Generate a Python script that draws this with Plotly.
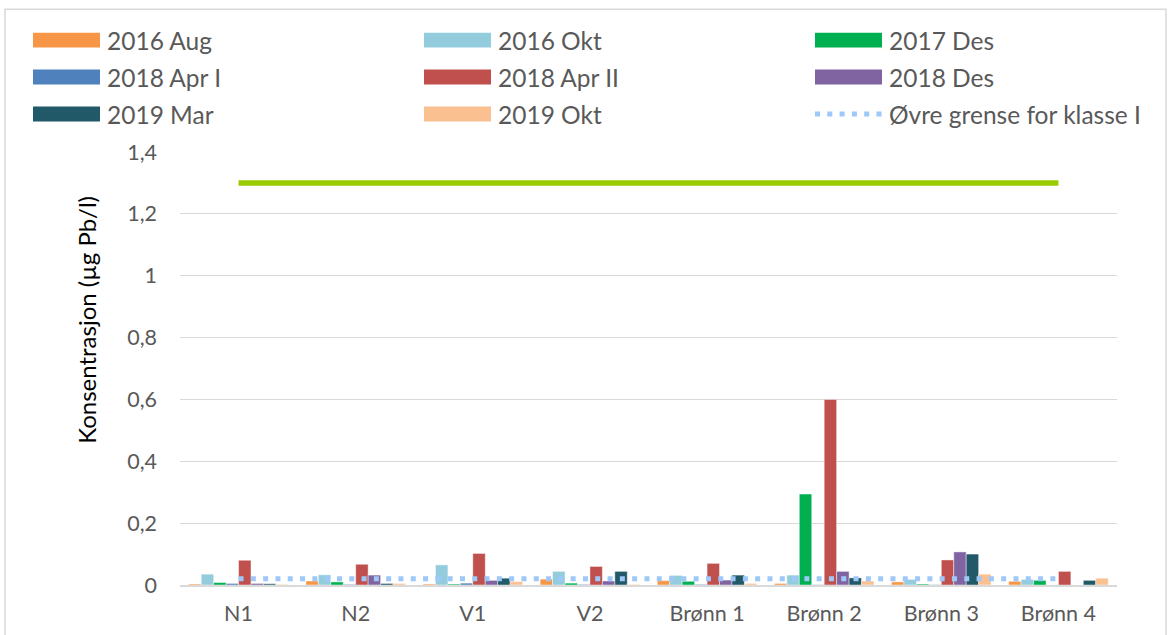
import plotly.graph_objects as go

# Sampling points
categories = ["N1", "N2", "V1", "V2", "Brønn 1", "Brønn 2", "Brønn 3", "Brønn 4"]

# Lead concentrations (µg Pb/l) per sampling round
series_names = ["2016 Aug", "2016 Okt", "2017 Des", "2018 Apr I",
                "2018 Apr II", "2018 Des", "2019 Mar", "2019 Okt"]
aug_2016 = [0.003, 0.013, 0.003, 0.019, 0.014, 0.005, 0.010, 0.012]
okt_2016 = [0.035, 0.033, 0.065, 0.044, 0.031, 0.032, 0.018, 0.018]
des_2017 = [0.008, 0.010, 0.003, 0.006, 0.012, 0.294, 0.003, 0.015]
apr1_2018 = [0.005, 0.002, 0.006, 0.002, 0.002, 0.001, 0.001, None]
apr2_2018 = [0.080, 0.067, 0.102, 0.060, 0.070, 0.600, 0.081, 0.044]
des_2018 = [0.005, 0.032, 0.015, 0.013, 0.016, 0.044, 0.107, None]
mar_2019 = [0.004, 0.005, 0.022, 0.044, 0.032, 0.023, 0.100, 0.015]
okt_2019 = [0.002, 0.005, 0.011, 0.002, 0.005, 0.013, 0.035, 0.022]
series_values = [aug_2016, okt_2016, des_2017, apr1_2018,
                 apr2_2018, des_2018, mar_2019, okt_2019]
series_colors = ["#F79646", "#93CDDD", "#00B050", "#4F81BD",
                 "#C0504D", "#8064A2", "#215968", "#FAC090"]

# Reference limits
limit_name = "Øvre grense for klasse I"
limit_class1 = [0.02] * len(categories)
limit_green = [1.3] * len(categories)

TEXT = "#595959"
GRID = "#D9D9D9"
FONT = "Lato"

# plot area in page pixels
L, R, T, B = 180, 1117, 152, 585.5


def px(x):
    return (x - L) / (R - L)


def py(y):
    return (B - y) / (B - T)


fig = go.Figure()

for name, vals, col in zip(series_names, series_values, series_colors):
    fig.add_trace(go.Bar(
        x=categories, y=vals, name=name,
        marker=dict(color=col, line=dict(color="rgba(255,255,255,0.55)", width=0.8)),
        showlegend=False,
    ))

fig.add_trace(go.Scatter(
    x=categories, y=limit_green, mode="lines",
    line=dict(color="#99CC00", width=5.5), showlegend=False,
))
fig.add_trace(go.Scatter(
    x=categories, y=limit_class1, mode="lines", name=limit_name,
    line=dict(color="#9DC8F7", width=5, dash="5px,7.3px"), showlegend=False,
))

# Legend drawn as a 3x3 grid
col_x = [33, 424, 815]
row_y = [40, 77, 114]
shapes = []
annotations = []
legend_items = list(zip(series_names, series_colors)) + [(limit_name, None)]
for i, (name, col) in enumerate(legend_items):
    r, c = divmod(i, 3)
    x0, yc = col_x[c], row_y[r]
    if col is not None:
        shapes.append(dict(type="rect", xref="paper", yref="paper",
                           x0=px(x0), x1=px(x0 + 67), y0=py(yc + 7.5), y1=py(yc - 7.5),
                           fillcolor=col, line=dict(width=0), layer="above"))
    else:
        shapes.append(dict(type="line", xref="paper", yref="paper",
                           x0=px(x0), x1=px(x0 + 67), y0=py(yc), y1=py(yc),
                           line=dict(color="#9DC8F7", width=5, dash="5px,7.3px"),
                           layer="above"))
    annotations.append(dict(xref="paper", yref="paper", x=px(x0 + 72), y=py(yc),
                            text=name, showarrow=False, xanchor="left", yanchor="middle",
                            font=dict(family=FONT, size=24.5, color=TEXT)))

# Y axis title
annotations.append(dict(xref="paper", yref="paper", x=px(87), y=py(320),
                        text="Konsentrasjon (µg Pb/l)", textangle=-90, showarrow=False,
                        xanchor="center", yanchor="middle",
                        font=dict(family=FONT, size=24, color="#000000")))

# Outer chart border
shapes.append(dict(type="rect", xref="paper", yref="paper",
                   x0=px(5), x1=px(1166), y0=py(9), y1=py(640),
                   line=dict(color="#D9D9D9", width=1.5), fillcolor="rgba(0,0,0,0)"))

fig.update_layout(
    width=1170, height=635,
    margin=dict(l=L, r=1170 - R, t=T, b=635 - B),
    paper_bgcolor="white", plot_bgcolor="white",
    barmode="group", bargap=0.15, bargroupgap=0,
    separators=", ",
    font=dict(family=FONT, size=21, color=TEXT),
    shapes=shapes, annotations=annotations,
    showlegend=False,
)
fig.update_xaxes(showgrid=False, showline=True, linecolor=GRID, linewidth=2,
                 ticks="", ticklabelstandoff=8, automargin=False,
                 tickfont=dict(family=FONT, size=21.5, color=TEXT))
fig.update_yaxes(range=[0, 1.4], dtick=0.2, showgrid=True, gridcolor=GRID, gridwidth=1.3,
                 zeroline=False, showline=False, ticks="", ticklabelstandoff=22,
                 automargin=False,
                 tickfont=dict(family=FONT, size=21.5, color=TEXT))

fig.write_html("out.html")
